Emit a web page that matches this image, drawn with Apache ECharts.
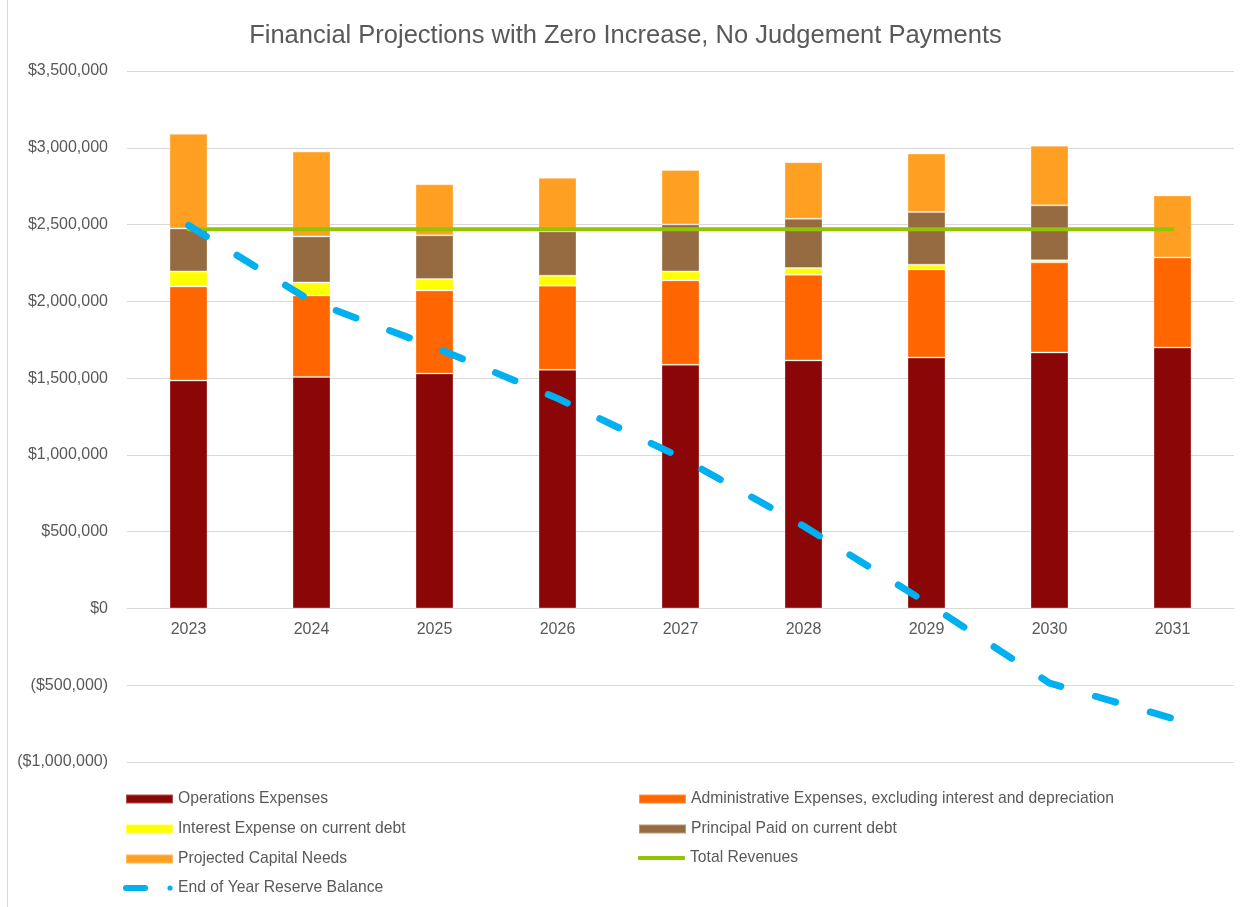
<!DOCTYPE html>
<html>
<head>
<meta charset="utf-8">
<script src="https://cdn.jsdelivr.net/npm/echarts@6/dist/echarts.min.js"></script>
<style>
  html, body { margin: 0; padding: 0; background: #fff; }
  #chart { width: 1251px; height: 907px; }
  #edge { position: absolute; left: 7px; top: 0; width: 1px; height: 907px; background: #d9d9d9; }
</style>
</head>
<body>
<div id="chart"></div>
<div id="edge"></div>
<script>
const years = ["2023", "2024", "2025", "2026", "2027", "2028", "2029", "2030", "2031"];
const operations = [1484000, 1508000, 1530000, 1554000, 1587000, 1615000, 1634000, 1667000, 1699000];
const administrative = [613000, 530000, 541000, 548000, 549000, 558000, 574000, 587000, 587000];
const interest = [98000, 85000, 74000, 65000, 59000, 44000, 31000, 13000, 0];
const principal = [280000, 300000, 285000, 289000, 306000, 321000, 343000, 358000, 0];
const capital = [616000, 552000, 332000, 348000, 355000, 368000, 380000, 389000, 404000];
const revenues = [2470000, 2470000, 2470000, 2470000, 2470000, 2470000, 2470000, 2470000, 2470000];
const reserve = [2495000, 2000000, 1701000, 1368000, 984000, 537000, 38000, -486000, -716000];

const font = "Liberation Sans";
const grey = "#595959";

function money(v) {
  const s = "$" + Math.abs(v).toLocaleString("en-US");
  return v < 0 ? "(" + s + ")" : s;
}

function bar(name, data, color) {
  return {
    name: name,
    type: "bar",
    stack: "total",
    data: data,
    barWidth: 38,
    itemStyle: { color: color, borderColor: "rgba(255,255,255,0.3)", borderWidth: 1 },
  };
}

const legendText = { color: grey, fontSize: 15.7, fontFamily: font, lineHeight: 16 };

// each legend column / odd icon gets its own legend box
function legendBox(left, top, data, w, h) {
  return {
    orient: "vertical",
    left: left,
    top: top,
    itemWidth: w,
    itemHeight: h,
    itemGap: 14,
    textStyle: legendText,
    data: data,
  };
}

const reserveIcon = "path://M3,0 L22,0 A3,3 0 0 1 22,6 L3,6 A3,3 0 0 1 3,0 Z M47,0.4 A2.6,2.6 0 1 1 47,5.6 A2.6,2.6 0 1 1 47,0.4 Z M0,3 L0,3 Z M50,3 L50,3 Z";

let myChart = echarts.init(document.getElementById("chart"));
myChart.setOption({
  animation: false,
  title: {
    text: "Financial Projections with Zero Increase, No Judgement Payments",
    left: "center",
    top: 23,
    padding: 0,
    textStyle: { color: grey, fontSize: 25.5, fontWeight: "normal", fontFamily: font },
  },
  grid: { left: 127, right: 17, top: 71, bottom: 145 },
  xAxis: {
    type: "category",
    data: years,
    offset: -154,
    axisLine: { onZero: false, lineStyle: { color: "#d9d9d9" } },
    axisTick: { show: false },
    axisLabel: { color: grey, fontSize: 16, fontFamily: font, margin: 14 },
  },
  yAxis: {
    type: "value",
    min: -1000000,
    max: 3500000,
    interval: 500000,
    axisLine: { show: false },
    axisTick: { show: false },
    splitLine: { lineStyle: { color: "#d9d9d9" } },
    axisLabel: { color: grey, fontSize: 16, fontFamily: font, margin: 19, formatter: money },
  },
  legend: [
    legendBox(120, 786, [
      { name: "Operations Expenses", icon: "rect" },
      { name: "Interest Expense on current debt", icon: "rect" },
      { name: "Projected Capital Needs", icon: "rect" },
    ], 47, 9),
    legendBox(118, 875, [
      { name: "End of Year Reserve Balance", icon: reserveIcon },
    ], 50, 6),
    legendBox(633, 786, [
      { name: "Administrative Expenses, excluding interest and depreciation", icon: "rect" },
      { name: "Principal Paid on current debt", icon: "rect" },
    ], 47, 9),
    legendBox(633, 845, [
      { name: "Total Revenues", icon: "roundRect" },
    ], 47, 4),
  ],
  series: [
    bar("Operations Expenses", operations, "#8b0606"),
    bar("Administrative Expenses, excluding interest and depreciation", administrative, "#ff6600"),
    bar("Interest Expense on current debt", interest, "#ffff00"),
    bar("Principal Paid on current debt", principal, "#976b42"),
    bar("Projected Capital Needs", capital, "#ffa022"),
    {
      name: "Total Revenues",
      type: "line",
      data: revenues,
      symbol: "none",
      itemStyle: { color: "#92c400" },
      lineStyle: { color: "#92c400", width: 4, cap: "round" },
    },
    {
      name: "End of Year Reserve Balance",
      type: "line",
      data: reserve,
      symbol: "none",
      itemStyle: { color: "#00b0f0" },
      lineStyle: { color: "#00b0f0", width: 7, type: [21, 36], cap: "round" },
    },
  ],
});
</script>
</body>
</html>
